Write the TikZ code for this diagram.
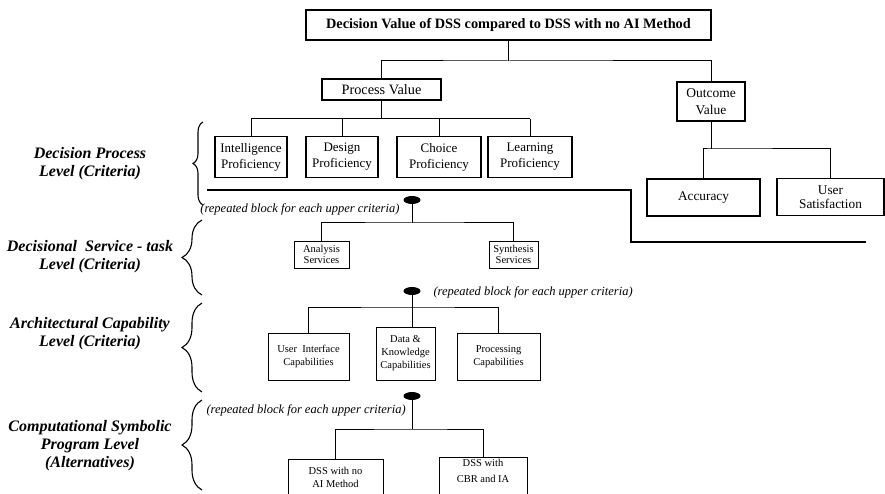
\documentclass[tikz,border=0pt]{standalone}
\usepackage{fontspec}
\setmainfont{Liberation Serif}
\usetikzlibrary{positioning, shapes.geometric, decorations.pathreplacing}

\begin{document}
\begin{tikzpicture}[x=1pt, y=-1pt,
  box/.style={draw, line width=1.1pt, align=center, inner sep=0pt,
    font=\fontsize{13}{16}\selectfont},
  midbox/.style={draw, line width=1pt, align=center, inner sep=0pt,
    font=\fontsize{10.5}{13}\selectfont},
  smallbox/.style={draw, line width=1pt, align=center, inner sep=0pt,
    font=\fontsize{10.5}{11}\selectfont},
  link/.style={line width=1pt},
  blob/.style={ellipse, fill=black, inner sep=0pt, minimum width=17, minimum height=8},
  levellabel/.style={align=center, font=\fontsize{16}{18}\selectfont\bfseries\itshape},
  repnote/.style={font=\fontsize{12.5}{14}\selectfont\itshape},
  levelbrace/.style={decorate, line width=1.1pt, decoration={brace, amplitude=#1}}]
  \clip (0,0) rectangle (885,494);
  % Goal and value branches
  \node[box, line width=1.3pt, minimum width=405, minimum height=30,
    font=\fontsize{14.3}{16}\selectfont\bfseries] (goal) at (508.5,25)
    {Decision Value of DSS compared to DSS with no AI Method};
  \node[box, minimum width=119, minimum height=21, font=\fontsize{14.3}{16}\selectfont]
    (proc) at (381.5,89.5) {Process Value};
  \node[box, minimum width=68, minimum height=39, font=\fontsize{13.5}{17}\selectfont]
    (outc) at (711,101.5) {Outcome\\Value};
  \coordinate (tj) at (508.5,61);
  \draw[link] (goal) -- (tj);
  \draw[link] (proc.north) |- (tj) -| (outc.north);
  % Decision process criteria
  \node[box, minimum width=72, minimum height=41] (intel) at (251,157) {Intelligence\\Proficiency};
  \node[box, minimum width=72, minimum height=41] (design) at (342,157) {Design\\Proficiency};
  \node[box, minimum width=84, minimum height=41] (choice) at (439,157) {Choice\\Proficiency};
  \node[box, minimum width=84, minimum height=41] (learn) at (530,157) {Learning\\Proficiency};
  \coordinate (pj) at (381.5,119);
  \draw[link] (proc) -- (pj);
  \draw[link] (intel.north |- pj) -- (learn.north |- pj);
  \foreach \b in {intel, design, choice, learn}
    \draw[link] (\b.north |- pj) -- (\b.north);
  % Outcome criteria
  \node[box, minimum width=113, minimum height=37, font=\fontsize{13.3}{14.5}\selectfont]
    (acc) at (703.5,197.5) {Accuracy};
  \node[box, minimum width=107, minimum height=37, font=\fontsize{13.3}{14.5}\selectfont]
    (usr) at (830.5,197) {User\\Satisfaction};
  \coordinate (oj) at (711,149);
  \draw[link] (outc) -- (oj);
  \draw[link] (acc.north) |- (oj) -| (usr.north);
  % Separator
  \draw[line width=2.8pt] (207,190) -- (631,190) -- (631,242) -- (866,242);
  % Service-task level
  \node[blob] (dot1) at (412,200) {};
  \node[repnote, anchor=east] (rep1) at (403,209) {(repeated block for each upper criteria)};
  \node[smallbox, minimum width=55, minimum height=27] (ana) at (321.5,254.5) {Analysis\\Services};
  \node[smallbox, minimum width=49, minimum height=27] (syn) at (513.5,254.5) {Synthesis\\Services};
  \coordinate (j1) at (412,223);
  \draw[link] (dot1.center) -- (j1);
  \draw[link] (ana.north) |- (j1) -| (syn.north);
  % Architectural level
  \node[blob] (dot2) at (412,291) {};
  \node[repnote, anchor=west] (rep2) at (430,292) {(repeated block for each upper criteria)};
  \node[midbox, minimum width=81, minimum height=47] (ui) at (308.5,356.5) {User\ \ Interface\\Capabilities};
  \node[midbox, minimum width=59, minimum height=53] (data) at (405.5,353.5) {Data \&\\Knowledge\\Capabilities};
  \node[midbox, minimum width=83, minimum height=47] (pcap) at (498.5,356.5) {Processing\\Capabilities};
  \coordinate (j2) at (412,307);
  \draw[link] (dot2.center) -- (dot2 |- data.north);
  \draw[link] (ui.north) |- (j2) -| (pcap.north);
  % Program level (alternatives)
  \node[blob] (dot3) at (412,396) {};
  \node[repnote, anchor=west] (rep3) at (203,410) {(repeated block for each upper criteria)};
  \node[midbox, minimum width=95, minimum height=45, anchor=north] (noai) at (335.5,459) {};
  \node[align=center, font=\fontsize{10.5}{13}\selectfont] (noaitxt) at (335.5,477) {DSS with no\\AI Method};
  \node[midbox, minimum width=88, minimum height=45, anchor=north] (cbr) at (483,457) {};
  \node[align=center, font=\fontsize{10.5}{16}\selectfont] (cbrtxt) at (483,471) {DSS with\\CBR and IA};
  \coordinate (j3) at (412,429);
  \draw[link] (dot3.center) -- (j3);
  \draw[link] (noai.north) |- (j3) -| (cbr.north);
  % Levels
  \node[levellabel] (lv1) at (90,164) {Decision Process\\Level (Criteria)};
  \node[levellabel] (lv2) at (90,257) {Decisional\ \ Service - task\\Level (Criteria)};
  \node[levellabel] (lv3) at (90,334) {Architectural Capability\\Level (Criteria)};
  \node[levellabel] (lv4) at (90,446) {Computational Symbolic\\Program Level\\(Alternatives)};
  \draw[levelbrace=10pt] (203,205) -- (203,122);
  \draw[levelbrace=20pt] (202,295) -- (202,220);
  \draw[levelbrace=20pt] (202,392) -- (202,303);
  \draw[levelbrace=20pt] (202,490) -- (202,400);
\end{tikzpicture}
\end{document}
